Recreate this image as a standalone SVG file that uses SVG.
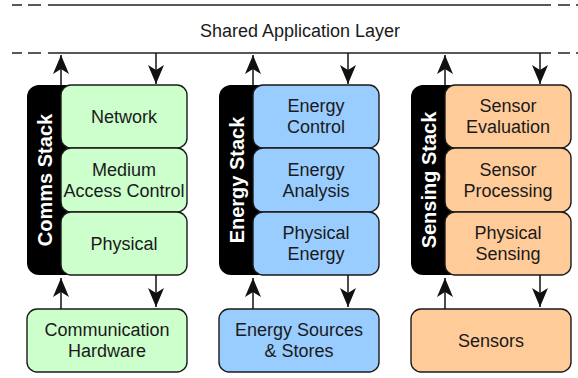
<svg xmlns="http://www.w3.org/2000/svg" width="578" height="378" viewBox="0 0 578 378">
<style>
.t{font-family:"Liberation Sans",Arial,sans-serif;font-size:18px;fill:#1a1a1a;text-anchor:middle}
.st{font-family:"Liberation Sans",Arial,sans-serif;font-size:20px;font-weight:bold;fill:#fff;text-anchor:middle}
.blk{fill:#000}
.g{fill:#ccffcc;stroke:#1a1a1a;stroke-width:1.4}
.b{fill:#99ccff;stroke:#1a1a1a;stroke-width:1.4}
.o{fill:#ffcc99;stroke:#1a1a1a;stroke-width:1.4}
.ln{stroke:#222;stroke-width:1.6;fill:none}
.dl{stroke:#222;stroke-width:1.6;fill:none}
.c{stroke:#111;stroke-width:1.5;fill:none;marker-end:url(#ah)}
</style>
<defs>
<marker id="ah" viewBox="-20 -9 21 18" refX="0" refY="0" markerWidth="21" markerHeight="18" markerUnits="userSpaceOnUse" orient="auto">
<path d="M0,0 L-19,-8 L-14,0 L-19,8 Z" fill="#111"/>
</marker>
</defs>
<g id="app-layer">
<path class="ln" d="M48,5 H551 M48,53 H551"/>
<path class="dl" d="M12,5 H22 M28,5 H41 M558,5 H570 M576,5 H578 M12,53 H22 M28,53 H41 M558,53 H570 M576,53 H578"/>
<text class="t" x="300" y="37">Shared Application Layer</text>
</g>
<g id="comms-stack">
<rect class="blk" x="27" y="85" width="80" height="190" rx="12"/>
<text class="st" transform="translate(52,180) rotate(-90)">Comms Stack</text>
</g>
<g id="network"><rect class="g" x="61" y="85" width="126" height="63" rx="10"/><text class="t" x="124" y="123">Network</text></g>
<g id="mac"><rect class="g" x="61" y="148" width="126" height="64" rx="10"/><text class="t" x="124" y="176">Medium</text><text class="t" x="124" y="197">Access Control</text></g>
<g id="physical"><rect class="g" x="61" y="212" width="126" height="63" rx="10"/><text class="t" x="124" y="250">Physical</text></g>
<g id="energy-stack">
<rect class="blk" x="219" y="85" width="80" height="190" rx="12"/>
<text class="st" transform="translate(244,180) rotate(-90)">Energy Stack</text>
</g>
<g id="energy-control"><rect class="b" x="253" y="85" width="126" height="63" rx="10"/><text class="t" x="316" y="112">Energy</text><text class="t" x="316" y="133">Control</text></g>
<g id="energy-analysis"><rect class="b" x="253" y="148" width="126" height="64" rx="10"/><text class="t" x="316" y="176">Energy</text><text class="t" x="316" y="197">Analysis</text></g>
<g id="physical-energy"><rect class="b" x="253" y="212" width="126" height="63" rx="10"/><text class="t" x="316" y="239">Physical</text><text class="t" x="316" y="260">Energy</text></g>
<g id="sensing-stack">
<rect class="blk" x="411" y="85" width="80" height="190" rx="12"/>
<text class="st" transform="translate(436,180) rotate(-90)">Sensing Stack</text>
</g>
<g id="sensor-evaluation"><rect class="o" x="445" y="85" width="126" height="63" rx="10"/><text class="t" x="508" y="112">Sensor</text><text class="t" x="508" y="133">Evaluation</text></g>
<g id="sensor-processing"><rect class="o" x="445" y="148" width="126" height="64" rx="10"/><text class="t" x="508" y="176">Sensor</text><text class="t" x="508" y="197">Processing</text></g>
<g id="physical-sensing"><rect class="o" x="445" y="212" width="126" height="63" rx="10"/><text class="t" x="508" y="239">Physical</text><text class="t" x="508" y="260">Sensing</text></g>
<g id="comm-hardware"><rect class="g" x="27" y="309" width="160" height="63" rx="10"/><text class="t" x="107" y="336">Communication</text><text class="t" x="107" y="357">Hardware</text></g>
<g id="energy-sources"><rect class="b" x="219" y="309" width="160" height="63" rx="10"/><text class="t" x="299" y="336">Energy Sources</text><text class="t" x="299" y="357">&amp; Stores</text></g>
<g id="sensors"><rect class="o" x="411" y="309" width="160" height="63" rx="10"/><text class="t" x="491" y="347">Sensors</text></g>
<g id="connectors">
<path class="c" d="M61,85 V55"/>
<path class="c" d="M156,53 V84"/>
<path class="c" d="M253,85 V55"/>
<path class="c" d="M348,53 V84"/>
<path class="c" d="M445,85 V55"/>
<path class="c" d="M540,53 V84"/>
<path class="c" d="M61,309 V278"/>
<path class="c" d="M156,275 V307"/>
<path class="c" d="M253,309 V278"/>
<path class="c" d="M348,275 V307"/>
<path class="c" d="M445,309 V278"/>
<path class="c" d="M540,275 V307"/>
</g>
</svg>
